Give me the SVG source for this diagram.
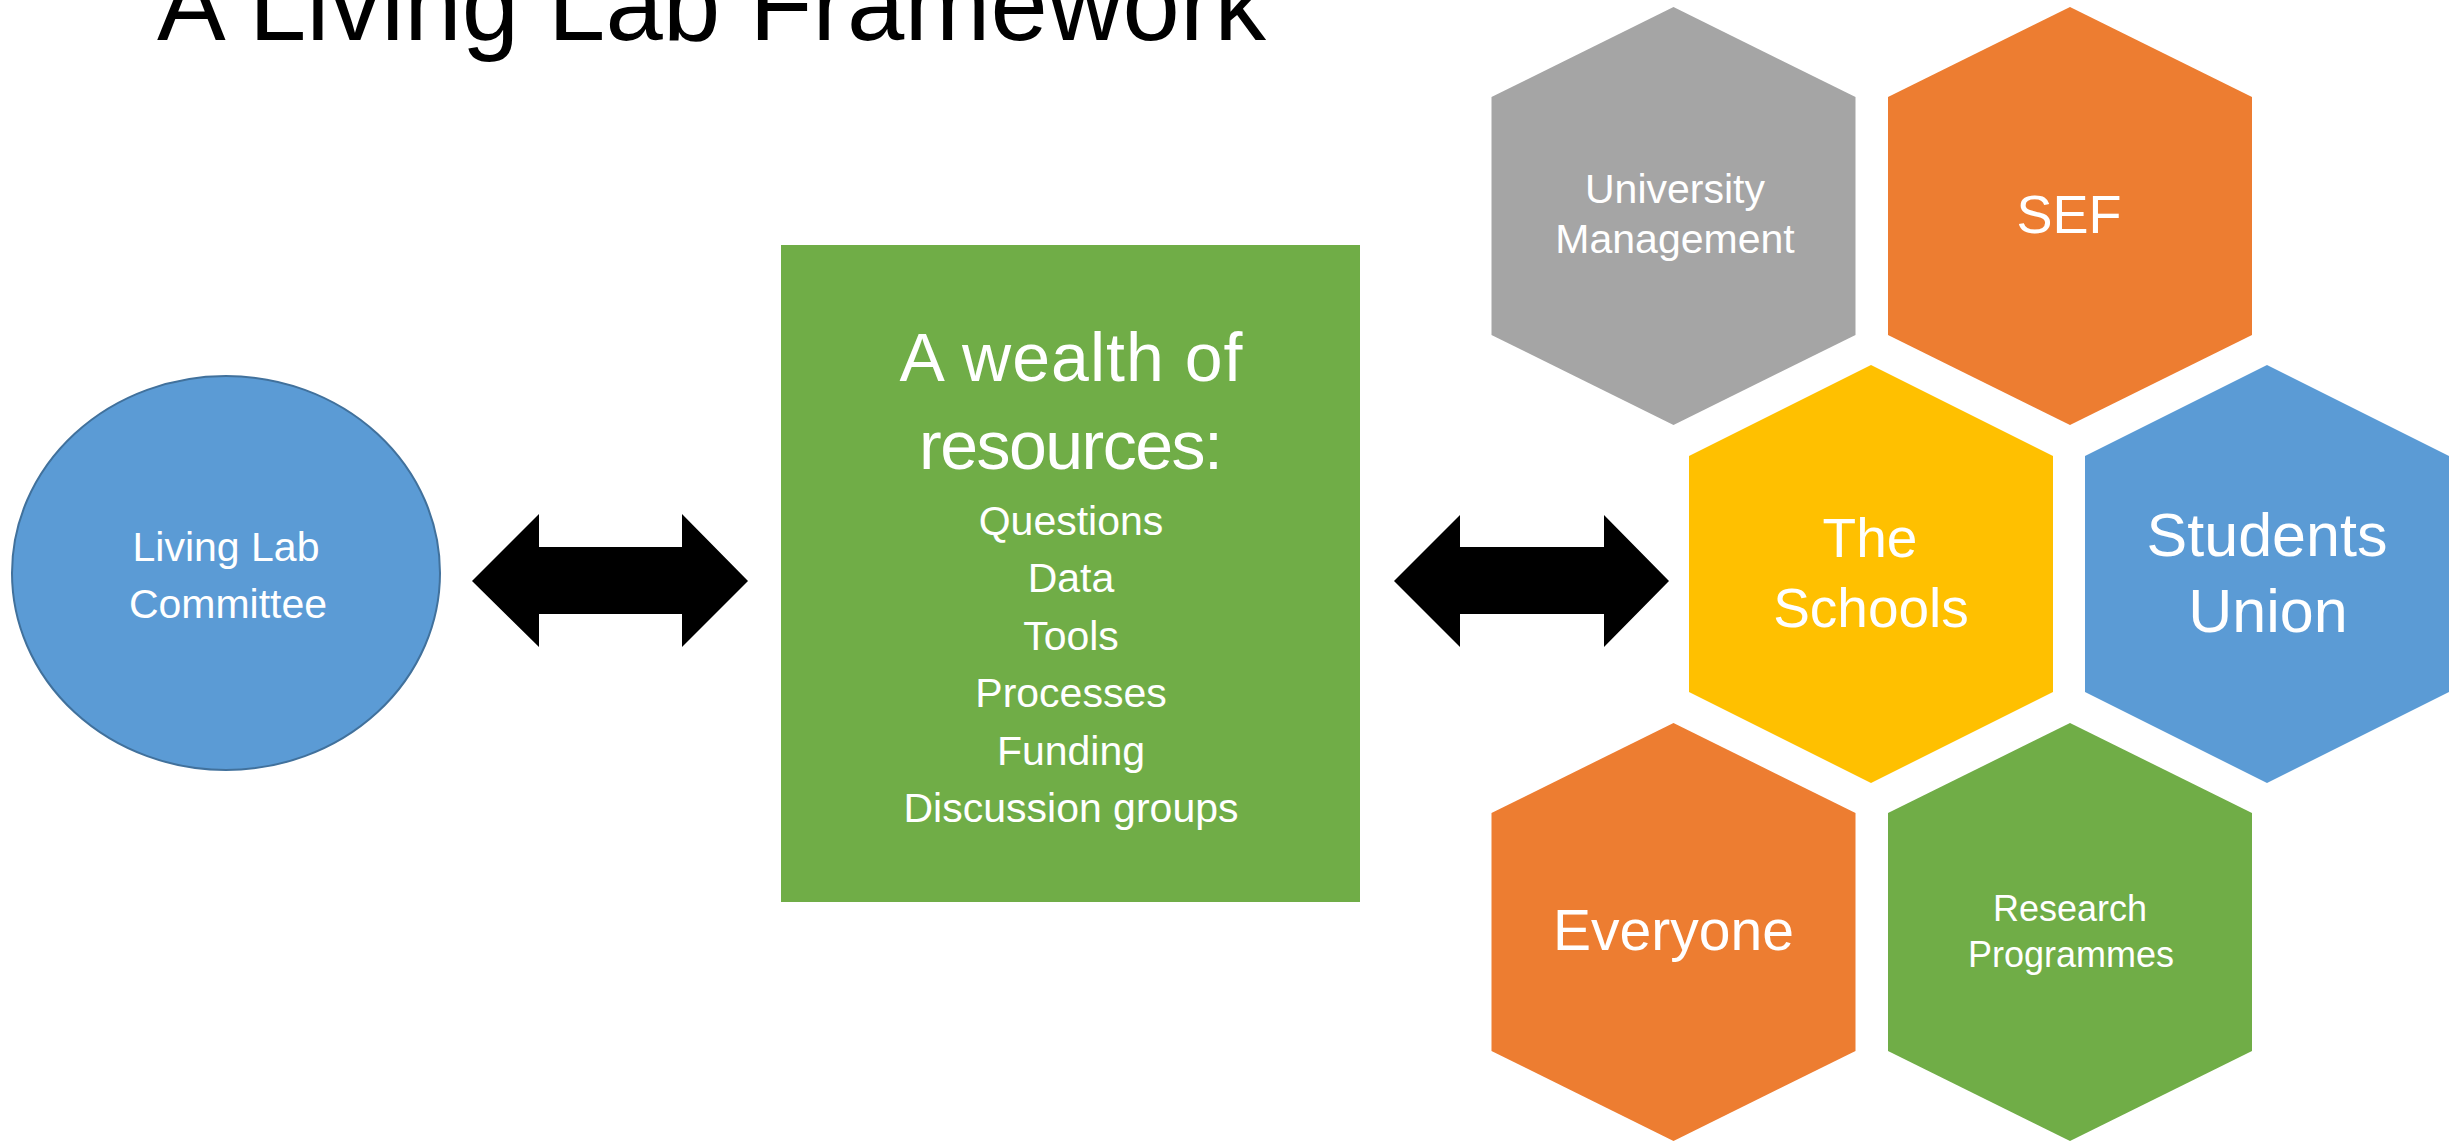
<svg xmlns="http://www.w3.org/2000/svg" width="2463" height="1142" viewBox="0 0 2463 1142">
<style>
text{font-family:"Liberation Sans",Arial,sans-serif;fill:#fff;text-anchor:middle}
.title{fill:#000;font-size:103px;font-weight:300}
.arrow{fill:#000}
.hex{stroke:none}
</style>
<rect width="2463" height="1142" fill="#fff"/>
<text id="title" class="title" x="711.5" y="40" textLength="1109">A Living Lab Framework</text>
<g id="connectors">
<polygon class="arrow" points="472,581 539,514 539,547 682,547 682,514 748,581 682,647 682,614 539,614 539,647"/>
<polygon class="arrow" points="1394,581 1460,515 1460,547 1604,547 1604,515 1669,581 1604,647 1604,614 1460,614 1460,647"/>
</g>
<g id="committee">
<ellipse cx="226" cy="573" rx="214" ry="197" fill="#5B9BD5" stroke="#41719C" stroke-width="2"/>
<text x="226" y="561" font-size="41">Living Lab</text>
<text x="228" y="618" font-size="41">Committee</text>
</g>
<g id="resources">
<rect x="781" y="245" width="579" height="657" fill="#70AD47"/>
<text x="1071" y="381" font-size="68" textLength="343">A wealth of</text>
<text x="1071" y="469" font-size="68" textLength="304">resources:</text>
<text x="1071" y="535" font-size="41">Questions</text>
<text x="1071" y="592" font-size="41">Data</text>
<text x="1071" y="650" font-size="41">Tools</text>
<text x="1071" y="707" font-size="41">Processes</text>
<text x="1071" y="765" font-size="41">Funding</text>
<text x="1071" y="822" font-size="41">Discussion groups</text>
</g>
<g id="university-management">
<polygon class="hex" fill="#A5A5A5" points="1673.5,7 1855.5,97 1855.5,335 1673.5,425 1491.5,335 1491.5,97"/>
<text x="1675" y="203" font-size="41">University</text>
<text x="1675" y="253" font-size="41">Management</text>
</g>
<g id="sef">
<polygon class="hex" fill="#ED7D31" points="2070,7 2252,97 2252,335 2070,425 1888,335 1888,97"/>
<text x="2069" y="233" font-size="54">SEF</text>
</g>
<g id="the-schools">
<polygon class="hex" fill="#FFC000" points="1871,365 2053,456 2053,692 1871,783 1689,692 1689,456"/>
<text x="1870" y="557" font-size="55">The</text>
<text x="1871" y="627" font-size="55">Schools</text>
</g>
<g id="students-union">
<polygon class="hex" fill="#5B9BD5" points="2267,365 2449,456 2449,692 2267,783 2085,692 2085,456"/>
<text x="2267" y="556" font-size="61">Students</text>
<text x="2268" y="632" font-size="61">Union</text>
</g>
<g id="everyone">
<polygon class="hex" fill="#ED7D31" points="1673.5,723 1855.5,813 1855.5,1051 1673.5,1141 1491.5,1051 1491.5,813"/>
<text x="1673.5" y="950" font-size="57">Everyone</text>
</g>
<g id="research-programmes">
<polygon class="hex" fill="#70AD47" points="2070,723 2252,813 2252,1051 2070,1141 1888,1051 1888,813"/>
<text x="2070" y="921" font-size="36">Research</text>
<text x="2071" y="967" font-size="36">Programmes</text>
</g>
</svg>
